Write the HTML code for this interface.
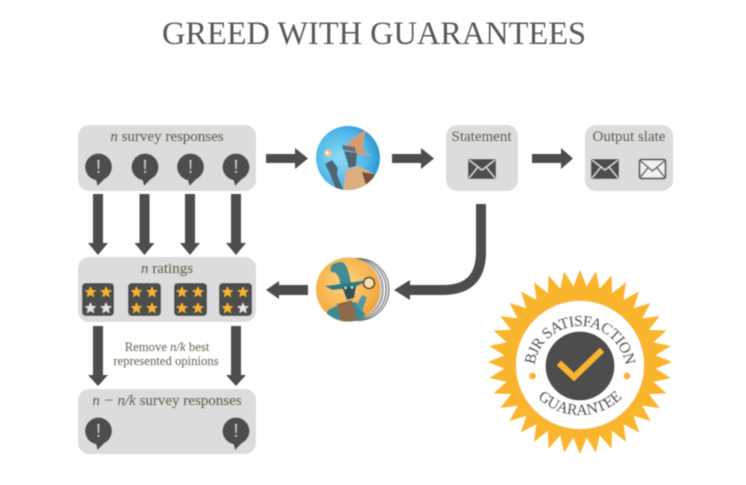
<!DOCTYPE html>
<html><head><meta charset="utf-8"><style>
html,body{margin:0;padding:0;background:#fff;width:746px;height:485px;overflow:hidden}
svg{display:block;font-family:"Liberation Serif",serif}
</style></head><body>
<svg width="746" height="485" viewBox="0 0 746 485" xmlns="http://www.w3.org/2000/svg">
<defs>
<filter id="b" x="-5%" y="-5%" width="110%" height="110%"><feGaussianBlur stdDeviation="0.6"/></filter>
<radialGradient id="blue" cx="38%" cy="50%" r="70%"><stop offset="0" stop-color="#8fdcf5"/><stop offset=".6" stop-color="#4fb6e8"/><stop offset="1" stop-color="#1f88c9"/></radialGradient>
<radialGradient id="orange" cx="45%" cy="40%" r="70%"><stop offset="0" stop-color="#fcd685"/><stop offset=".7" stop-color="#f6ae45"/><stop offset="1" stop-color="#ee8f24"/></radialGradient>
<clipPath id="c1"><circle cx="348" cy="158" r="32"/></clipPath>
<clipPath id="c2"><circle cx="348" cy="289.500" r="32"/></clipPath>
<g id="sp"><circle cx="0" cy="0" r="13.500" fill="#4d4d4d"/><path d="M-3 11 L-1 19 L9 9Z" fill="#4d4d4d"/><path d="M-.9 -7 h1.800 l-.3 9 h-1.200z" fill="#c9c9c9"/><circle cx="0" cy="5" r="1" fill="#c9c9c9"/></g>
<path id="st" d="M0 -5.800 L1.700 -1.900 L5.800 -1.700 L2.600 1 L3.700 5.200 L0 2.900 L-3.700 5.200 L-2.600 1 L-5.800 -1.700 L-1.700 -1.900Z"/>
<g id="env"><rect x="-14" y="-10" width="28" height="20" rx="2" fill="#4d4d4d"/><path d="M-13 -9 L0 1 L13 -9 M-13 9 L-4 -2 M13 9 L4 -2" fill="none" stroke="#dcdcdc" stroke-width="1.300"/></g>
<path id="arrD" d="M-5 0 H5 V49 H10 L0 61 L-10 49 H-5Z" fill="#4d4d4d"/>
<path id="arcTop" d="M534 372 A46 46 0 0 1 626 372"/>
<path id="arcBot" d="M520 355 A60 60 0 0 0 640 355"/>
</defs>

<g filter="url(#b)">
<text x="374" y="44" text-anchor="middle" font-size="33" fill="#595959" textLength="424" lengthAdjust="spacingAndGlyphs">GREED WITH GUARANTEES</text>

<rect x="78" y="125" width="178" height="66" rx="11" fill="#dcdcdc"/>
<rect x="446" y="125" width="72" height="66" rx="11" fill="#dcdcdc"/>
<rect x="585" y="125" width="88" height="66" rx="11" fill="#dcdcdc"/>
<rect x="78" y="257" width="178" height="65" rx="11" fill="#dcdcdc"/>
<rect x="78" y="389" width="178" height="65" rx="11" fill="#dcdcdc"/>

<g font-size="15" fill="#66664f" stroke="#66664f" stroke-width=".25" text-anchor="middle">
<text x="167" y="141"><tspan font-style="italic">n</tspan> survey responses</text>
<text x="481.500" y="141">Statement</text>
<text x="629" y="141">Output slate</text>
<text x="167" y="273"><tspan font-style="italic">n</tspan> ratings</text>
<text x="167" y="405"><tspan font-style="italic">n − n/k</tspan> survey responses</text>
</g>
<g font-size="12.700" fill="#77776a" stroke="#77776a" stroke-width=".15" text-anchor="middle">
<text x="167" y="351">Remove <tspan font-style="italic">n/k</tspan> best</text>
<text x="166" y="365">represented opinions</text>
</g>

<use href="#sp" x="98.500" y="167"/><use href="#sp" x="145" y="167"/><use href="#sp" x="190.500" y="167"/><use href="#sp" x="236" y="167"/>
<use href="#sp" x="98.500" y="431"/><use href="#sp" x="236" y="431"/>

<use href="#arrD" x="98" y="194"/><use href="#arrD" x="144.500" y="194"/><use href="#arrD" x="190" y="194"/><use href="#arrD" x="236" y="194"/>
<path d="M93 326 H103 V375 H108 L98 386 L88 375 H93Z" fill="#4d4d4d"/>
<path d="M231 326 H241 V375 H246 L236 386 L226 375 H231Z" fill="#4d4d4d"/>

<path d="M266 154 H295 V148 L308 158.500 L295 169 V163 H266Z" fill="#4d4d4d"/>
<path d="M392 154 H421 V148 L434 158.500 L421 169 V163 H392Z" fill="#4d4d4d"/>
<path d="M532 154 H561 V148 L573 158.500 L561 169 V163 H532Z" fill="#4d4d4d"/>
<path d="M308 285 H279 V281 L266 290 L279 299 V295 H308Z" fill="#4d4d4d"/>
<path d="M481 204 V252 Q481 290 443 290 H408" fill="none" stroke="#4d4d4d" stroke-width="10"/>
<path d="M410 280 L394 290 L410 300Z" fill="#4d4d4d"/>

<use href="#env" x="482" y="169"/><use href="#env" x="605" y="169"/>
<g transform="translate(652.500,169)"><rect x="-13" y="-9.500" width="26" height="19" rx="2" fill="#f1f1f1" stroke="#666" stroke-width="2"/><path d="M-12 -8 L0 2 L12 -8 M-12 8 L-4 -2 M12 8 L4 -2" fill="none" stroke="#666" stroke-width="1.500"/></g>

<rect x="82" y="283" width="32" height="33" rx="4" fill="#4d4d4d"/>
<rect x="128" y="283" width="33" height="33" rx="4" fill="#4d4d4d"/>
<rect x="174" y="283" width="33" height="33" rx="4" fill="#4d4d4d"/>
<rect x="219" y="283" width="33" height="33" rx="4" fill="#4d4d4d"/>
<g fill="#f7b52c">
<use href="#st" x="90.500" y="292"/><use href="#st" x="106" y="292"/>
<use href="#st" x="136.500" y="292"/><use href="#st" x="152" y="292"/><use href="#st" x="136.500" y="308"/><use href="#st" x="152" y="308"/>
<use href="#st" x="182" y="292"/><use href="#st" x="198" y="292"/><use href="#st" x="182" y="308"/><use href="#st" x="198" y="308"/>
<use href="#st" x="227.500" y="292"/><use href="#st" x="243" y="292"/><use href="#st" x="227.500" y="308"/>
</g>
<g fill="#e2e2e2"><use href="#st" x="90.500" y="308"/><use href="#st" x="106" y="308"/><use href="#st" x="243" y="308"/></g>

<!-- blue wizard -->
<circle cx="348" cy="158" r="32" fill="url(#blue)"/>
<g clip-path="url(#c1)">
<path d="M346 146 Q354 136 366 130 Q362 142 364 152 L373 156 L356 154 L342 148Z" fill="#d49c6c"/>
<path d="M342 145 L355 147 L356 152 L343 150Z" fill="#5e7280"/>
<path d="M344 151 L357 153 L356 166 L349 168Z" fill="#4f6675"/>
<path d="M343 192 L346 170 L358 166 L374 174 L380 192Z" fill="#dcae80"/>
<path d="M362 172 L374 174 L380 192 H368Z" fill="#7a4f34"/>
<path d="M325 164 L332 160 L338 168 L337 174 L344 192 H337 L330 174Z" fill="#4f6674"/>
<circle cx="328" cy="153" r="3.500" fill="#f6c46a"/><circle cx="327" cy="153" r="1.500" fill="#fff"/>
</g>
<!-- orange wizard stack -->
<circle cx="358" cy="289.500" r="31" fill="#d8d8d8" stroke="#6d6d6d" stroke-width="1"/>
<circle cx="355" cy="289.500" r="31" fill="#f0f0f0" stroke="#6d6d6d" stroke-width="1"/>
<circle cx="352" cy="289.500" r="31" fill="#cfcfcf" stroke="#6d6d6d" stroke-width="1"/>
<circle cx="348" cy="289.500" r="32" fill="url(#orange)"/>
<g clip-path="url(#c2)">
<path d="M331 272 Q328 262 342 262 Q348 264 351 283 L340 284 Q339 272 331 272Z" fill="#3f8d92"/>
<path d="M325 286 L368 280 L354 288 L332 290Z" fill="#2f7d85"/>
<path d="M342 287 H356 L354 298 L347 300Z" fill="#33505a"/>
<circle cx="345.500" cy="288" r="1.200" fill="#9ff"/><circle cx="352" cy="287.500" r="1.200" fill="#9ff"/>
<path d="M323 325 L328 310 L344 302 H356 L364 312 L368 325Z" fill="#3a8b92"/>
<path d="M337 304 L352 300 L358 325 H342Z" fill="#8d6a48"/>
<path d="M356 306 L362 295 L367 297 L362 312Z" fill="#4f9aa0"/>
<circle cx="369" cy="283" r="5.500" fill="#f5e2b0" stroke="#5a4a3a" stroke-width="1.800"/>
</g>

<!-- badge -->
<polygon fill="#f9b52e" points=""/>
<circle cx="580" cy="365" r="64" fill="#fff"/>
<circle cx="580" cy="366" r="34.500" fill="#4d4d4d"/>
<path d="M559 363 L574 377 L602 350" fill="none" stroke="#f9b52e" stroke-width="6"/>
<circle cx="532.500" cy="376" r="3.500" fill="#f9b52e"/><circle cx="627" cy="376" r="3.500" fill="#f9b52e"/>
<text font-size="15.500" fill="#4d4d4d" letter-spacing="-.5" stroke="#4d4d4d" stroke-width=".2"><textPath href="#arcTop" startOffset="50%" text-anchor="middle">BJR SATISFACTION</textPath></text>
<text font-size="15.500" fill="#4d4d4d" stroke="#4d4d4d" stroke-width=".2" letter-spacing="-.1"><textPath href="#arcBot" startOffset="50%" text-anchor="middle">GUARANTEE</textPath></text>
</g>
</svg>
<script>
var p=[],n=36,cx=580,cy=362,R=92,r=76;
for(var i=0;i<n*2;i++){var a=Math.PI*i/n-Math.PI/2,q=i%2?r:R;p.push((cx+q*Math.cos(a)).toFixed(1)+","+(cy+q*Math.sin(a)).toFixed(1));}
document.querySelector("polygon").setAttribute("points",p.join(" "));
</script>
</body></html>
